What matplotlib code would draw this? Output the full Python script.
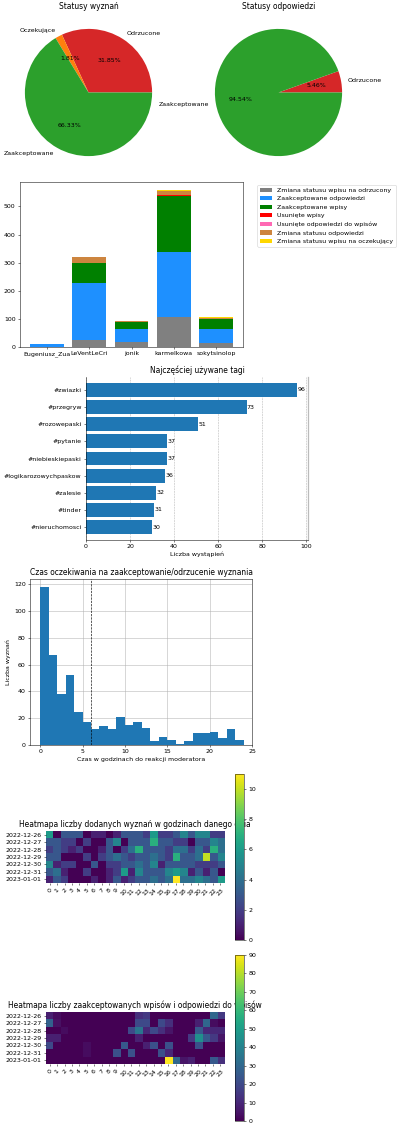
import matplotlib
matplotlib.use('Agg')
import matplotlib.pyplot as plt
import numpy as np

W, H = 400, 1129
DPI = 45

# --- dane ---
pie1_labels = ['Odrzucone', 'Oczekujące', 'Zaakceptowane']
pie1_values = [158, 9, 329]
pie1_colors = ['tab:red', 'tab:orange', 'tab:green']

pie2_labels = ['Odrzucone', 'Zaakceptowane']
pie2_values = [19, 329]
pie2_colors = ['tab:red', 'tab:green']

users = ['Eugeniusz_Zua', 'LeVentLeCri', 'jonik', 'karmelkowa', 'sokytsinolop']
actions = ['Zmiana statusu wpisu na odrzucony', 'Zaakceptowane odpowiedzi', 'Zaakceptowane wpisy',
           'Usunięte wpisy', 'Usunięte odpowiedzi do wpisów', 'Zmiana statusu odpowiedzi',
           'Zmiana statusu wpisu na oczekujący']
action_colors = ['gray', 'dodgerblue', 'green', 'red', 'hotpink', 'peru', 'gold']
rejected = [0, 24, 17, 105, 14]
acc_answers = [12, 203, 46, 233, 50]
acc_posts = [0, 73, 27, 200, 35]
del_posts = [0, 0, 0, 2, 0]
del_answers = [0, 0, 0, 0, 0]
answer_status = [0, 20, 3, 14, 4]
pending = [0, 0, 1, 5, 3]

tags = ['#zwiazki', '#przegryw', '#rozowepaski', '#pytanie', '#niebieskiepaski',
        '#logikarozowychpaskow', '#zalesie', '#tinder', '#nieruchomosci']
tag_counts = [96, 73, 51, 37, 37, 36, 32, 31, 30]

wait_bins = list(range(25))
wait_counts = [118, 67, 38, 52, 25, 17, 12, 14, 12, 21, 15, 17, 13, 3, 6, 4, 1, 3, 9, 9, 10, 5, 12, 4]

days = ['2022-12-26', '2022-12-27', '2022-12-28', '2022-12-29', '2022-12-30', '2022-12-31', '2023-01-01']
hours = [str(h) for h in range(24)]
added = [
    [6, 0, 3, 3, 3, 0, 1, 1, 0, 1, 3, 3, 3, 2, 6, 2, 2, 3, 5, 3, 5, 5, 2, 2],
    [3, 3, 2, 2, 0, 2, 0, 0, 3, 5, 0, 3, 3, 3, 7, 3, 3, 2, 2, 0, 3, 3, 5, 4],
    [2, 3, 2, 1, 2, 0, 0, 1, 3, 0, 2, 4, 7, 3, 3, 3, 2, 4, 4, 2, 4, 2, 7, 4],
    [3, 3, 0, 0, 0, 2, 0, 2, 3, 4, 3, 2, 3, 3, 4, 3, 2, 7, 3, 3, 4, 10, 3, 5],
    [5, 1, 2, 2, 0, 0, 3, 0, 2, 2, 3, 3, 4, 3, 5, 1, 3, 3, 3, 3, 2, 2, 2, 3],
    [3, 4, 1, 0, 0, 2, 0, 0, 1, 2, 6, 1, 5, 3, 3, 3, 5, 6, 5, 1, 3, 1, 3, 0],
    [1, 3, 2, 0, 0, 0, 1, 0, 1, 3, 1, 2, 3, 3, 4, 3, 4, 11, 4, 4, 5, 4, 3, 6],
]
accepted = [
    [8, 3, 0, 0, 0, 0, 0, 0, 0, 0, 0, 0, 12, 15, 0, 0, 0, 0, 0, 0, 0, 0, 30, 15],
    [28, 4, 0, 0, 0, 0, 0, 0, 0, 0, 0, 0, 20, 20, 0, 20, 12, 0, 0, 0, 8, 30, 3, 0],
    [0, 0, 3, 0, 0, 0, 0, 0, 0, 0, 0, 20, 35, 10, 20, 12, 5, 0, 0, 0, 25, 10, 10, 10],
    [8, 8, 0, 0, 0, 0, 0, 0, 0, 0, 0, 0, 8, 0, 0, 0, 0, 0, 0, 15, 45, 25, 15, 5],
    [20, 0, 0, 0, 0, 3, 0, 0, 0, 0, 25, 0, 0, 8, 22, 0, 22, 0, 0, 0, 22, 0, 0, 0],
    [0, 0, 0, 0, 0, 3, 0, 0, 0, 22, 0, 22, 0, 0, 0, 22, 10, 0, 0, 0, 0, 0, 0, 0],
    [0, 0, 0, 0, 0, 0, 0, 0, 0, 0, 0, 0, 0, 0, 0, 0, 90, 30, 5, 8, 0, 0, 25, 12],
]


def box(left, top, width, height):
    return [left / W, 1 - (top + height) / H, width / W, height / H]


fig = plt.figure(figsize=(W / DPI, H / DPI), dpi=DPI)

# --- wykresy kołowe ---
ax = fig.add_axes(box(9, 13, 159, 159))
ax.pie(pie1_values, labels=pie1_labels, colors=pie1_colors, autopct='%.2f%%')
ax.set_title('Statusy wyznań')

ax = fig.add_axes(box(199, 13, 159, 159))
ax.pie(pie2_values, labels=pie2_labels, colors=pie2_colors, autopct='%.2f%%')
ax.set_title('Statusy odpowiedzi')

# --- akcje moderatorów ---
ax = fig.add_axes(box(20, 182, 223, 165))
series = [rejected, acc_answers, acc_posts, del_posts, del_answers, answer_status, pending]
bottom = np.zeros(len(users))
for name, vals, col in zip(actions, series, action_colors):
    ax.bar(users, vals, bottom=bottom, color=col, label=name)
    bottom += np.array(vals)
ax.legend(loc='upper left', bbox_to_anchor=(1.05, 1))

# --- tagi ---
ax = fig.add_axes(box(86, 377, 222, 163))
bars = ax.barh(tags, tag_counts, color='tab:blue')
ax.bar_label(bars)
ax.set_ylim(8.75, -0.75)
ax.grid(axis='x', linestyle='--')
ax.set_axisbelow(True)
ax.spines['top'].set_visible(False)
ax.spines['right'].set_color('#bbbbbb')
ax.spines['right'].set_linewidth(2)
ax.set_xlabel('Liczba wystąpień')
ax.set_title('Najczęściej używane tagi')

# --- czas oczekiwania ---
ax = fig.add_axes(box(30, 579, 222, 166))
ax.bar(wait_bins[:-1], wait_counts, width=1, align='edge', color='tab:blue')
ax.axvline(6, color='black', linestyle='--', linewidth=1)
ax.set_xlim(-1.2, 25)
ax.grid(True)
ax.set_axisbelow(True)
ax.set_title('Czas oczekiwania na zaakceptowanie/odrzucenie wyznania')
ax.set_xlabel('Czas w godzinach do reakcji moderatora')
ax.set_ylabel('Liczba wyznań')

# --- heatmapy ---
heat = [
    (added, 'Heatmapa liczby dodanych wyznań w godzinach danego dnia', 774),
    (accepted, 'Heatmapa liczby zaakceptowanych wpisów i odpowiedzi do wpisów', 955),
]
for data, title, top in heat:
    ax = fig.add_axes(box(46, top, 178, 166))
    im = ax.imshow(np.array(data), cmap='viridis', aspect='equal')
    ax.set_xticks(range(24))
    ax.set_xticklabels(hours, rotation=45)
    ax.set_yticks(range(len(days)))
    ax.set_yticklabels(days)
    for s in ax.spines.values():
        s.set_visible(False)
    ax.set_title(title)
    cax = fig.add_axes(box(235, top, 9, 166))
    fig.colorbar(im, cax=cax)

fig.savefig('out.png', dpi=DPI)
